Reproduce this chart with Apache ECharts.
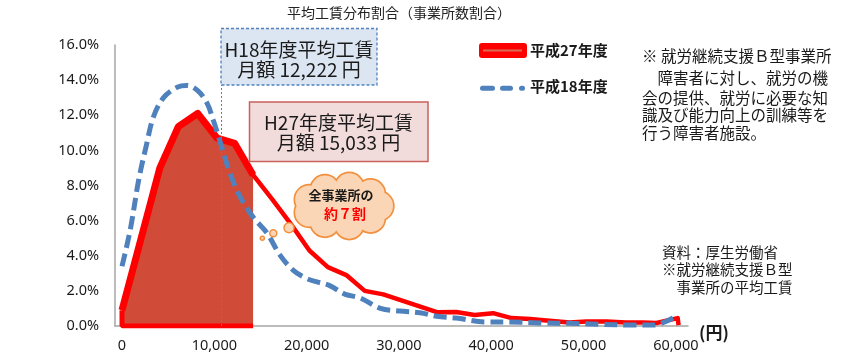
<!DOCTYPE html>
<html><head><meta charset="utf-8">
<script src="https://cdn.jsdelivr.net/npm/echarts@6/dist/echarts.min.js"></script>
<style>html,body{margin:0;padding:0;background:#fff}#c{width:868px;height:356px}</style>
</head><body><div id="c"></div>
<script>
const chartTitle = '平均工賃分布割合（事業所数割合）';
const seriesNames = ['平成27年度', '平成18年度'];
const xTickLabels = [0, 10000, 20000, 30000, 40000, 50000, 60000];
const yUnit = '%';

// 平成27年度 (red)
const h27Wage  = [0, 4100, 6100, 8200, 10300, 12200, 14200, 16300, 18300, 20300, 22300, 24300, 26300, 28300, 34200, 36200, 38200, 40200, 42200, 44200, 46300, 48500, 50300, 52500, 54600, 56400, 57900, 60200, 60300];
const h27Share = [0.9, 9.0, 11.35, 12.1, 10.7, 10.4, 8.6, 7.2, 5.8, 4.3, 3.35, 2.9, 2.0, 1.8, 0.78, 0.8, 0.63, 0.73, 0.45, 0.4, 0.3, 0.2, 0.25, 0.25, 0.2, 0.2, 0.17, 0.45, 0.05];

// 平成18年度 (blue dashed)
const h18Wage  = [0, 900, 1800, 2600, 3400, 4500, 6000, 7000, 8200, 9200, 9900, 10800, 11700, 12800, 14200, 15700, 17100, 18500, 20000, 21200, 22500, 24200, 25800, 28000, 30100, 32300, 34100, 36200, 39400, 42000, 45600, 48500, 51700, 55300, 57500, 60200];
const h18Share = [3.4, 5.5, 8.3, 10.2, 11.9, 13.0, 13.6, 13.7, 13.4, 12.7, 11.7, 10.2, 8.7, 7.35, 6.2, 5.3, 4.05, 3.2, 2.7, 2.5, 2.3, 1.8, 1.6, 1.0, 0.85, 0.75, 0.55, 0.45, 0.23, 0.23, 0.17, 0.15, 0.1, 0.05, 0.05, 0.6];

// shaded share (approx. 7 of 10 offices) up to this wage
const fillLimit = 14200;
// H18 average-wage guide line
const h18GuideX = 10750;
const h18GuideTop = 13.73;

const boxH18 = ['H18年度平均工賃', '月額 12,222 円'];
const boxH27 = ['H27年度平均工賃', '月額 15,033 円'];
const cloudText = ['全事業所の', '約７割'];
const noteLines = ['※ 就労継続支援Ｂ型事業所', '　障害者に対し、就労の機', '会の提供、就労に必要な知', '識及び能力向上の訓練等を', '行う障害者施設。'];
const sourceLines = ['資料：厚生労働省', '※就労継続支援Ｂ型', '　事業所の平均工賃'];
const xUnit = '(円)';

const pair = (xs, ys) => xs.map((x, i) => [x, ys[i]]);
const h27 = pair(h27Wage, h27Share);
const h18 = pair(h18Wage, h18Share);
const h27Fill = h27.filter(p => p[0] <= fillLimit);

const JP = '"Noto Sans CJK JP", "Noto Sans", sans-serif';
const NUM = '"Noto Sans", "Noto Sans CJK JP", sans-serif';
const comma = v => String(v).replace(/\B(?=(\d{3})+(?!\d))/g, ',');
const RED = '#ff0000', BLUE = '#4f81bd';

function txt(text, x, y, o) {
  o = o || {};
  const al = o.align || 'left';
  return {
    type: 'text', x: x, y: y, z: 100,
    style: {
      text: text, fill: o.color || '#1a1a1a',
      fontSize: o.size || 15, fontFamily: o.family || JP, fontWeight: o.weight || 'normal',
      align: al, textAlign: al, verticalAlign: 'middle', textVerticalAlign: 'middle'
    }
  };
}

// cloud shape
const cloudCx = 343, cloudCy = 206;
const cloudFill = '#fbd6b6', cloudStroke = '#f2903e';
const bumps = [];
for (let k = 0; k < 9; k++) {
  const a = k * 40 * Math.PI / 180;
  bumps.push([cloudCx + 36 * Math.cos(a), cloudCy - 19 * Math.sin(a)]);
}
const cloudEls = [];
bumps.forEach(b => cloudEls.push({type: 'circle', z: 90, shape: {cx: b[0], cy: b[1], r: 14}, style: {fill: cloudFill, stroke: cloudStroke, lineWidth: 3.4}}));
bumps.forEach(b => cloudEls.push({type: 'circle', z: 91, shape: {cx: b[0], cy: b[1], r: 14}, style: {fill: cloudFill}}));
cloudEls.push({type: 'ellipse', z: 92, shape: {cx: cloudCx, cy: cloudCy, rx: 38, ry: 22}, style: {fill: cloudFill}});
[[289, 227.7, 5], [273.3, 233.3, 3.5], [262.3, 238.3, 2]].forEach(c => cloudEls.push({type: 'circle', z: 90, shape: {cx: c[0], cy: c[1], r: c[2]}, style: {fill: cloudFill, stroke: cloudStroke, lineWidth: 1.5}}));

// legend keys (drawn; legend text from the legend component)
const legendKeys = [
  {type: 'rect', z: 100, shape: {x: 479, y: 43, width: 48, height: 15, r: 3}, style: {fill: RED}},
  {type: 'line', z: 101, shape: {x1: 483, y1: 50.5, x2: 522, y2: 50.5}, style: {stroke: '#d96b57', lineWidth: 2}},
  {type: 'line', z: 100, shape: {x1: 482.5, y1: 88.3, x2: 492.5, y2: 88.3}, style: {stroke: BLUE, lineWidth: 5, lineCap: 'round'}},
  {type: 'line', z: 100, shape: {x1: 502.5, y1: 88.3, x2: 510.5, y2: 88.3}, style: {stroke: BLUE, lineWidth: 5, lineCap: 'round'}},
  {type: 'line', z: 100, shape: {x1: 521.5, y1: 88.3, x2: 522.5, y2: 88.3}, style: {stroke: BLUE, lineWidth: 5, lineCap: 'round'}}
];

const graphics = [
  txt(chartTitle, 399, 13, {align: 'center', size: 14, color: '#222'}),
  {type: 'rect', z: 95, shape: {x: 221, y: 28.5, width: 156, height: 56.5}, style: {fill: '#dce6f2', stroke: BLUE, lineWidth: 1.3, lineDash: [3, 2]}},
  txt(boxH18[0], 299, 50, {align: 'center', size: 19}),
  txt(boxH18[1], 299, 70, {align: 'center', size: 19}),
  {type: 'rect', z: 95, shape: {x: 249.5, y: 102, width: 178.5, height: 59.5}, style: {fill: '#f2dcdb', stroke: '#c9605c', lineWidth: 1.5}},
  txt(boxH27[0], 338.5, 123, {align: 'center', size: 19}),
  txt(boxH27[1], 338.5, 143, {align: 'center', size: 19}),
  txt(cloudText[0], 341, 195.5, {align: 'center', size: 13, weight: 'bold'}),
  txt(cloudText[1], 345, 214, {align: 'center', size: 14, weight: 'bold', color: RED}),
  txt(xUnit, 714, 333, {align: 'center', size: 17, weight: 'bold'})
].concat(cloudEls, legendKeys);
const noteY = [56, 78, 98, 115.5, 133];
noteLines.forEach((t, i) => graphics.push(txt(t, 642, noteY[i], {size: 15.5})));
const srcY = [252, 269.5, 287];
sourceLines.forEach((t, i) => graphics.push(txt(t, 662, srcY[i], {size: 14.5})));

const hiddenKey = {icon: 'rect', itemStyle: {opacity: 0}, lineStyle: {opacity: 0}};
const chart = echarts.init(document.getElementById('c'), null, {renderer: 'canvas'});
chart.setOption({
  animation: false,
  backgroundColor: '#fff',
  grid: {left: 115, right: 180, top: 45, bottom: 30, containLabel: false},
  legend: {
    data: [Object.assign({name: seriesNames[0]}, hiddenKey), Object.assign({name: seriesNames[1]}, hiddenKey)],
    orient: 'vertical', left: 472, top: 38, itemWidth: 48, itemHeight: 15, itemGap: 21,
    selectedMode: false,
    textStyle: {fontSize: 15, fontWeight: 'bold', color: '#1a1a1a', fontFamily: JP}
  },
  xAxis: {
    type: 'value', min: -760, max: 61320,
    axisLine: {show: true, onZero: false, lineStyle: {color: '#a6a6a6', width: 1.5}},
    axisTick: {show: false}, splitLine: {show: false},
    axisLabel: {customValues: xTickLabels, formatter: v => comma(v), fontSize: 14.5, color: '#1a1a1a', margin: 13, fontFamily: NUM}
  },
  yAxis: {
    type: 'value', min: 0, max: 16, interval: 2,
    axisLine: {show: true, onZero: false, lineStyle: {color: '#a6a6a6', width: 1.5}},
    axisTick: {show: false}, splitLine: {show: false},
    axisLabel: {formatter: v => v.toFixed(1) + yUnit, fontSize: 14.5, color: '#1a1a1a', margin: 16, fontFamily: NUM}
  },
  graphic: graphics,
  series: [
    {
      name: seriesNames[0], type: 'line', data: h27Fill, symbol: 'none', z: 2,
      itemStyle: {color: RED},
      lineStyle: {color: RED, width: 7, join: 'round'},
      areaStyle: {color: '#d04c38', opacity: 1}
    },
    {
      name: 'edge', type: 'line', symbol: 'none', z: 3,
      data: [[h27Wage[0], h27Share[0]], [h27Wage[0], 0], [fillLimit, 0]],
      lineStyle: {color: RED, width: 5}
    },
    {
      name: seriesNames[0], type: 'line', data: h27, symbol: 'none', z: 4,
      itemStyle: {color: RED},
      lineStyle: {color: RED, width: 4.5, join: 'round'}
    },
    {
      name: seriesNames[1], type: 'line', data: h18, symbol: 'none', smooth: 0.35, z: 5,
      itemStyle: {color: BLUE},
      lineStyle: {color: BLUE, width: 5, type: [13, 6]},
      markLine: {
        silent: true, symbol: 'none', label: {show: false},
        lineStyle: {color: BLUE, width: 1, type: [2, 2]},
        data: [[{coord: [h18GuideX, 0]}, {coord: [h18GuideX, h18GuideTop]}]]
      }
    }
  ]
});
</script></body></html>
